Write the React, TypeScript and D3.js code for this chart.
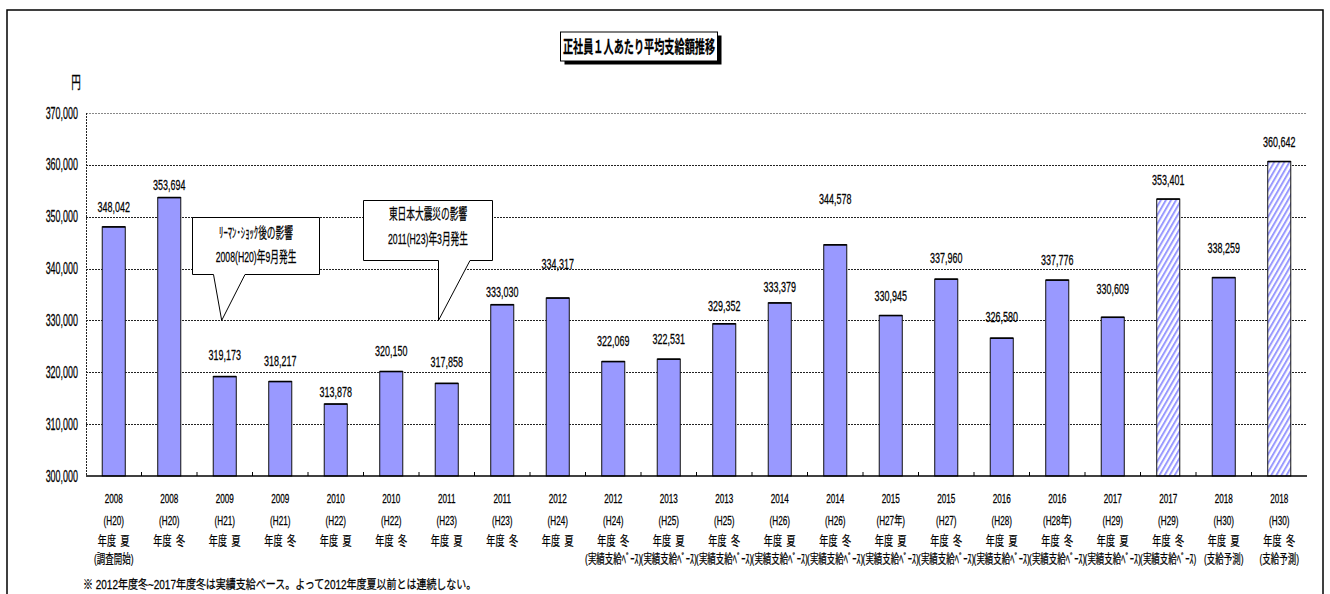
import React from 'react';
import * as d3 from 'd3';

// ---- data ----
const years = ['2008','2008','2009','2009','2010','2010','2011','2011','2012','2012','2013','2013','2014','2014','2015','2015','2016','2016','2017','2017','2018','2018'];
const eras = ['(H20)','(H20)','(H21)','(H21)','(H22)','(H22)','(H23)','(H23)','(H24)','(H24)','(H25)','(H25)','(H26)','(H26)','(H27年)','(H27)','(H28)','(H28年)','(H29)','(H29)','(H30)','(H30)'];
const seasons = ['年度\u2002夏','年度\u2002冬','年度\u2002夏','年度\u2002冬','年度\u2002夏','年度\u2002冬','年度\u2002夏','年度\u2002冬','年度\u2002夏','年度\u2002冬','年度\u2002夏','年度\u2002冬','年度\u2002夏','年度\u2002冬','年度\u2002夏','年度\u2002冬','年度\u2002夏','年度\u2002冬','年度\u2002夏','年度\u2002冬','年度\u2002夏','年度\u2002冬'];
const notes = ['(調査開始)','','','','','','','','','(実績支給ﾍﾞｰｽ)','(実績支給ﾍﾞｰｽ)','(実績支給ﾍﾞｰｽ)','(実績支給ﾍﾞｰｽ)','(実績支給ﾍﾞｰｽ)','(実績支給ﾍﾞｰｽ)','(実績支給ﾍﾞｰｽ)','(実績支給ﾍﾞｰｽ)','(実績支給ﾍﾞｰｽ)','(実績支給ﾍﾞｰｽ)','(実績支給ﾍﾞｰｽ)','(支給予測)','(支給予測)'];
const values = [348042,353694,319173,318217,313878,320150,317858,333030,334317,322069,322531,329352,333379,344578,330945,337960,326580,337776,330609,353401,338259,360642];
const hatched = [false,false,false,false,false,false,false,false,false,false,false,false,false,false,false,false,false,false,false,true,false,true];
const yTicks = [300000,310000,320000,330000,340000,350000,360000,370000];

// label placement (px above bar top), layout only
const labelLift = [20,12,21,20,12,20.5,21.5,13,34,20,20,18,15.5,45.5,19,21,21,20,28.5,19,29.5,19];

const title = '正社員１人あたり平均支給額推移';
const unit = '円';
const footnote = '※ 2012年度冬~2017年度冬は実績支給ベース。よって2012年度夏以前とは連続しない。';
const callouts = [
  { lines: ['ﾘｰﾏﾝ･ｼｮｯｸ後の影響', '2008(H20)年9月発生'] },
  { lines: ['東日本大震災の影響', '2011(H23)年3月発生'] },
];

const FONT = "'Liberation Sans', 'Noto Sans CJK JP', sans-serif";
const BAR = '#9999FF';

function T({ x, y, size, sx, anchor = 'middle', weight = 'normal', children }: any) {
  return (
    <text
      transform={`translate(${x},${y}) scale(${sx},1)`}
      fontSize={size}
      textAnchor={anchor}
      dy="0.35em"
      fontFamily={FONT}
      fontWeight={weight}
      fill="#000"
      stroke="#000"
      strokeWidth={0.25}
    >
      {children}
    </text>
  );
}

export default function App() {
  const left = 86, right = 1307, top = 113, bottom = 476;
  const x = d3.scaleBand<number>()
    .domain(d3.range(values.length))
    .range([left, right])
    .paddingInner(0.585)
    .paddingOuter(0.2925);
  const y = d3.scaleLinear().domain([300000, 370000]).range([bottom, top]);
  const fmt = d3.format(',');
  const step = x.step();
  const cx = (i: number) => (x(i) as number) + x.bandwidth() / 2;

  const calloutBoxes = [
    { x0: 192.5, y0: 217.5, x1: 319.5, y1: 274.5, b1: 213.5, b2: 245, tx: 221.7, ty: y(330000), ly: [233, 256.5] },
    { x0: 363.5, y0: 200.5, x1: 492.5, y1: 260.5, b1: 438.5, b2: 470, tx: 438.5, ty: y(330000), ly: [214, 238.5] },
  ];

  return (
    <svg width={1330} height={594} style={{ position: 'absolute', left: 0, top: 0, background: '#fff' }}>
      <defs>
        <pattern id="hatch" patternUnits="userSpaceOnUse" width="4.4" height="4.4" patternTransform="rotate(30)">
          <rect width="4.4" height="4.4" fill="#fff" />
          <rect width="2" height="4.4" fill={BAR} />
        </pattern>
      </defs>
      <rect x={0} y={0} width={1330} height={594} fill="#fff" />
      {/* outer frame */}
      <rect x={7} y={10} width={1316} height={600} fill="none" stroke="#000" strokeWidth={1.5} />

      {/* title */}
      <rect x={564.5} y={35.5} width={157} height={29} fill="#000" />
      <rect x={560.5} y={32} width={157} height={29} fill="#fff" stroke="#000" strokeWidth={1} />
      <T x={639} y={46.5} size={17.5} sx={0.58} weight="bold">{title}</T>

      {/* unit */}
      <T x={76} y={82} size={16} sx={0.6}>{unit}</T>

      {/* gridlines */}
      {yTicks.filter(t => t > 300000).map(t => (
        <line key={t} x1={left} x2={right} y1={Math.round(y(t)) + 0.5} y2={Math.round(y(t)) + 0.5}
          stroke={t === 370000 ? '#888' : '#222'} strokeWidth={1} strokeDasharray="2,1" />
      ))}
      {/* y axis */}
      <line x1={left + 0.5} x2={left + 0.5} y1={top} y2={bottom} stroke="#222" strokeWidth={1} strokeDasharray="2,1" />
      {yTicks.map(t => (
        <T key={t} x={78} y={y(t)} size={16} sx={0.56} anchor="end">{fmt(t)}</T>
      ))}

      {/* callouts */}
      {calloutBoxes.map((c, i) => (
        <g key={i}>
          <path
            d={`M${c.x0},${c.y0} H${c.x1} V${c.y1} H${c.b2} L${c.tx},${c.ty} L${c.b1},${c.y1} H${c.x0} Z`}
            fill="#fff" stroke="#000" strokeWidth={1}
          />
          {callouts[i].lines.map((l, j) => (
            <T key={j} x={(c.x0 + c.x1) / 2} y={c.ly[j]} size={14.5} sx={0.6}>{l}</T>
          ))}
        </g>
      ))}

      {/* bars */}
      {values.map((v, i) => (
        <rect key={i} x={x(i)} y={y(v)} width={x.bandwidth()} height={bottom - y(v)}
          fill={hatched[i] ? 'url(#hatch)' : BAR} stroke="#111" strokeWidth={1} />
      ))}
      {values.map((v, i) => (
        <line key={'t' + i} x1={x(i)} x2={(x(i) as number) + x.bandwidth()} y1={y(v)} y2={y(v)} stroke="#000" strokeWidth={1.6} />
      ))}

      {/* value labels */}
      {values.map((v, i) => (
        <T key={i} x={cx(i)} y={y(v) - labelLift[i]} size={14} sx={0.64}>{fmt(v)}</T>
      ))}

      {/* x axis */}
      <line x1={left} x2={right} y1={bottom} y2={bottom} stroke="#000" strokeWidth={1.5} />
      {d3.range(1, values.length).map(k => (
        <line key={k} x1={left + k * step} x2={left + k * step} y1={bottom - 4} y2={bottom} stroke="#000" strokeWidth={1} />
      ))}

      {/* x labels */}
      {values.map((_, i) => (
        <g key={i}>
          <T x={cx(i)} y={499} size={12} sx={0.68}>{years[i]}</T>
          <T x={cx(i)} y={520.5} size={12} sx={0.68}>{eras[i]}</T>
          <T x={cx(i)} y={540} size={13} sx={0.7}>{seasons[i]}</T>
          {notes[i] && <T x={cx(i)} y={558} size={13} sx={0.65}>{notes[i]}</T>}
        </g>
      ))}

      {/* footnote */}
      <T x={83} y={585} size={12.5} sx={0.8} anchor="start">{footnote}</T>
    </svg>
  );
}
